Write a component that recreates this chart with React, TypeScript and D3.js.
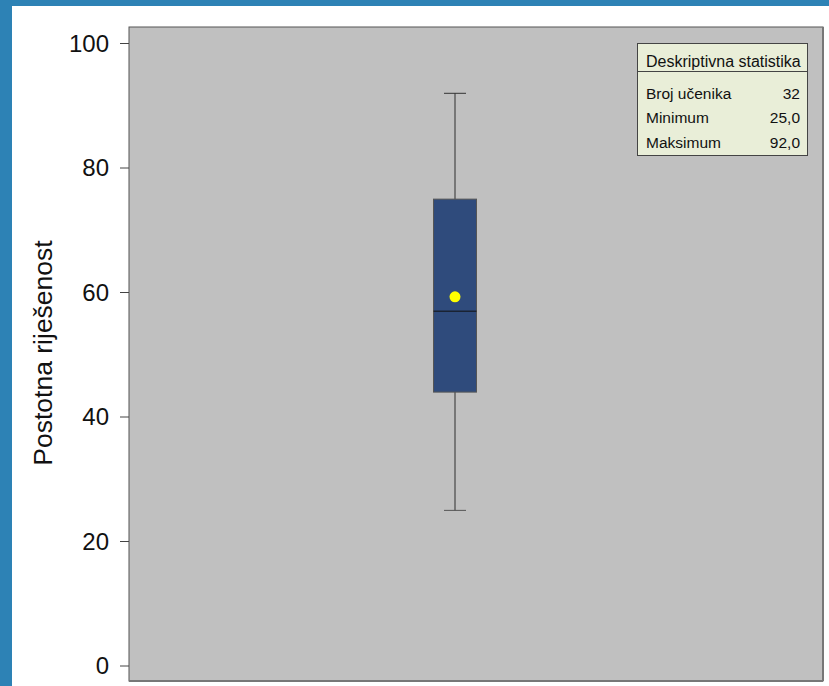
import React from "react";
import * as d3 from "d3";

const yTicks = [0, 20, 40, 60, 80, 100];
const boxStats = { min: 25, q1: 44, median: 57, q3: 75, max: 92, mean: 59.3 };
const legendTitle = "Deskriptivna statistika";
const legendLabels = ["Broj učenika", "Minimum", "Maksimum"];
const legendValues = ["32", "25,0", "92,0"];
const yTitle = "Postotna riješenost";

export default function App() {
  const W = 829, H = 686;
  const plot = { left: 129, top: 27, right: 823, bottom: 681 };
  const y = d3.scaleLinear().domain([0, 100]).range([666, 43.5]);
  const cx = 455;
  const boxW = 43;
  const capW = 22;
  const font = "Arial, 'Liberation Sans', sans-serif";
  const lg = { x: 637.5, y: 43.5, w: 170, h: 112, head: 28 };
  return (
    <svg width={W} height={H} style={{ position: "absolute", left: 0, top: 0 }} fontFamily={font}>
      <rect x={0} y={0} width={W} height={H} fill="#ffffff" />
      <rect x={0} y={0} width={12} height={H} fill="#2d82b5" />
      <rect x={0} y={0} width={W} height={6} fill="#2d82b5" />
      <rect x={plot.left} y={plot.top} width={plot.right - plot.left} height={plot.bottom - plot.top} fill="#c0c0c0" stroke="#555" strokeWidth={1} />
      <line x1={plot.right} x2={plot.right} y1={plot.top} y2={plot.bottom} stroke="#777" strokeWidth={2} />
      <line x1={plot.left} x2={plot.right} y1={plot.bottom} y2={plot.bottom} stroke="#777" strokeWidth={2} />
      {yTicks.map((t) => (
        <g key={t}>
          <line x1={120} x2={plot.left} y1={y(t)} y2={y(t)} stroke="#444" strokeWidth={1} />
          <text x={109} y={y(t)} dy="0.35em" textAnchor="end" fontSize={24} fill="#111">{t}</text>
        </g>
      ))}
      <text transform={`translate(52,353) rotate(-90)`} textAnchor="middle" fontSize={26.5} fill="#111">{yTitle}</text>
      {/* whiskers */}
      <line x1={cx} x2={cx} y1={y(boxStats.max)} y2={y(boxStats.q3)} stroke="#777" strokeWidth={2} />
      <line x1={cx} x2={cx} y1={y(boxStats.q1)} y2={y(boxStats.min)} stroke="#777" strokeWidth={2} />
      <line x1={cx - capW / 2} x2={cx + capW / 2} y1={y(boxStats.max)} y2={y(boxStats.max)} stroke="#333" strokeWidth={1} />
      <line x1={cx - capW / 2} x2={cx + capW / 2} y1={y(boxStats.min)} y2={y(boxStats.min)} stroke="#555" strokeWidth={1} />
      <rect x={cx - boxW / 2} y={y(boxStats.q3)} width={boxW} height={y(boxStats.q1) - y(boxStats.q3)} fill="#2f4b7c" stroke="#555" strokeWidth={1} />
      <line x1={cx - boxW / 2} x2={cx + boxW / 2} y1={y(boxStats.median)} y2={y(boxStats.median)} stroke="#111" strokeWidth={1} />
      <circle cx={cx} cy={y(boxStats.mean)} r={5.5} fill="#ffff00" />
      {/* legend */}
      <rect x={lg.x} y={lg.y} width={lg.w} height={lg.h} fill="#e9eed8" stroke="#444" strokeWidth={1} />
      <line x1={lg.x} x2={lg.x + lg.w} y1={lg.y + lg.head} y2={lg.y + lg.head} stroke="#444" strokeWidth={1} />
      <text x={lg.x + 8.5} y={66.5} fontSize={16} fill="#111">{legendTitle}</text>
      {legendLabels.map((l, i) => (
        <g key={l}>
          <text x={lg.x + 8.5} y={98.5 + i * 24.5} fontSize={15.5} fill="#111">{l}</text>
          <text x={800} y={98.5 + i * 24.5} fontSize={15.5} fill="#111" textAnchor="end">{legendValues[i]}</text>
        </g>
      ))}
    </svg>
  );
}
